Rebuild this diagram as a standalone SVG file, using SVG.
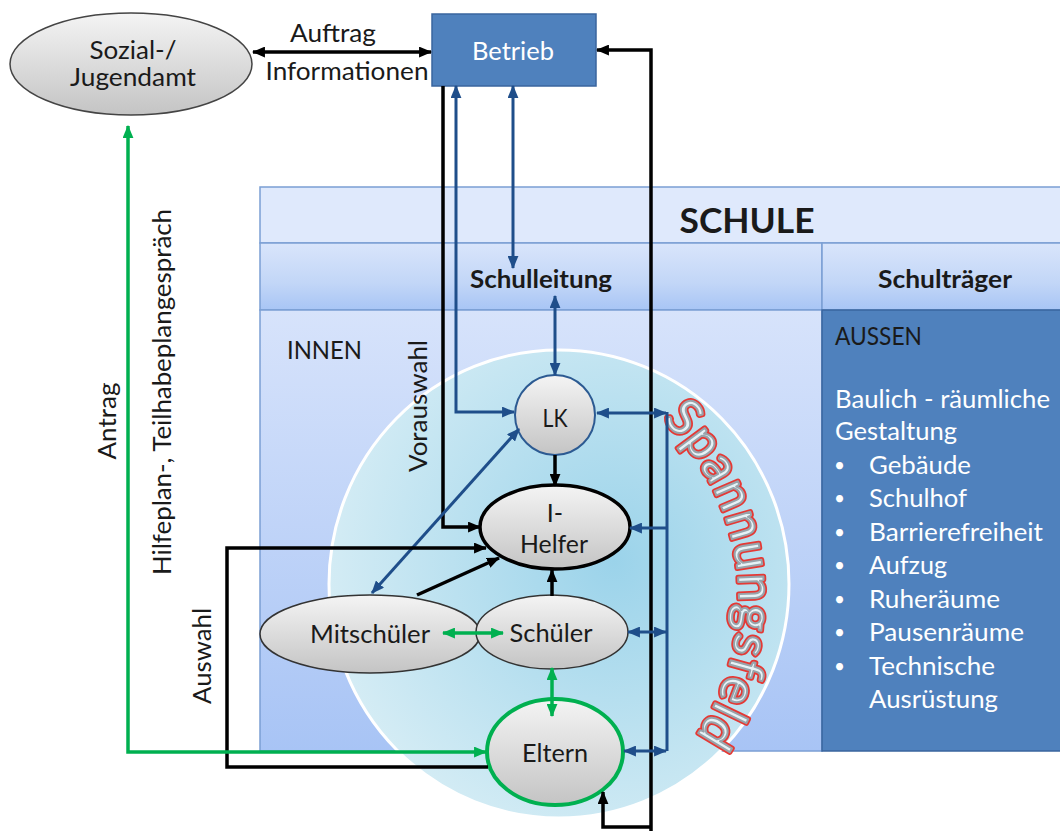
<svg xmlns="http://www.w3.org/2000/svg" width="1060" height="831" viewBox="0 0 1060 831">
<defs>
<style>
text{font-family:Lato,"Open Sans","Liberation Sans",sans-serif;font-size:25px;fill:#1a1a1a}
.c{text-anchor:middle}
.bold{font-weight:bold}
.w{fill:#ffffff}
.bul{font-size:19px;fill:#ffffff}
.k{stroke:#000;stroke-width:3.5;fill:none}
.b{stroke:#1f4e8a;stroke-width:3;fill:none}
.g{stroke:#00b050;stroke-width:3.5;fill:none}
.node{fill:url(#gray)}
.frame{stroke:#7b9fd4;stroke-width:1.5}
.sp{font-size:50px}
</style>
<linearGradient id="gray" x1="0" y1="0" x2="0" y2="1"><stop offset="0" stop-color="#f4f4f4"/><stop offset="1" stop-color="#c4c4c4"/></linearGradient>
<radialGradient id="circ" cx="0.62" cy="0.45" r="0.65"><stop offset="0" stop-color="#9bd3ea"/><stop offset="1" stop-color="#d6edf5"/></radialGradient>
<linearGradient id="innen" x1="0" y1="0" x2="0" y2="1"><stop offset="0" stop-color="#d7e3fb"/><stop offset="1" stop-color="#a8c4f5"/></linearGradient>
<linearGradient id="row2" x1="0" y1="0" x2="0" y2="1"><stop offset="0" stop-color="#d9e5fb"/><stop offset="0.6" stop-color="#c2d6f7"/><stop offset="1" stop-color="#a8c5f5"/></linearGradient>
<marker id="mk" viewBox="0 0 12 10" markerUnits="userSpaceOnUse" markerWidth="13" markerHeight="11" refX="11" refY="5" orient="auto-start-reverse"><path d="M0,0 L12,5 L0,10 z" fill="#000"/></marker>
<marker id="mb" viewBox="0 0 12 10" markerUnits="userSpaceOnUse" markerWidth="13" markerHeight="11" refX="11" refY="5" orient="auto-start-reverse"><path d="M0,0 L12,5 L0,10 z" fill="#1f4e8a"/></marker>
<marker id="mg" viewBox="0 0 12 10" markerUnits="userSpaceOnUse" markerWidth="13" markerHeight="11" refX="11" refY="5" orient="auto-start-reverse"><path d="M0,0 L12,5 L0,10 z" fill="#00b050"/></marker>
<path id="arc" d="M 662.3 419.6 A 246 246 0 0 1 690.6 743.8"/>
</defs>
<rect width="1060" height="831" fill="#ffffff"/>

<g id="schule">
<rect class="frame" x="260" y="187" width="810" height="56" fill="#dfe9fc"/>
<rect class="frame" x="260" y="243" width="562" height="67" fill="url(#row2)"/>
<rect class="frame" x="822" y="243" width="248" height="67" fill="url(#row2)"/>
<rect class="frame" x="260" y="310" width="562" height="441" fill="url(#innen)"/>
<text class="c bold" x="747" y="233" style="font-size:35px" textLength="135" lengthAdjust="spacingAndGlyphs">SCHULE</text>
</g>

<g id="schulleitung">
<text class="c bold" x="541" y="288" textLength="142" lengthAdjust="spacingAndGlyphs">Schulleitung</text>
</g>

<g id="schultraeger">
<text class="c bold" x="945" y="288" textLength="134" lengthAdjust="spacingAndGlyphs">Schulträger</text>
</g>

<g id="innen-label">
<text x="287" y="359" textLength="75" lengthAdjust="spacingAndGlyphs">INNEN</text>
</g>

<g id="aussen">
<rect x="822" y="310" width="248" height="441" fill="#4f81bd" stroke="#3a659e" stroke-width="1.5"/>
<text x="835" y="345" textLength="87" lengthAdjust="spacingAndGlyphs">AUSSEN</text>
<text class="w" x="835" y="408" textLength="215" lengthAdjust="spacingAndGlyphs">Baulich - räumliche</text>
<text class="w" x="835" y="440" textLength="122" lengthAdjust="spacingAndGlyphs">Gestaltung</text>
<text class="bul" x="834" y="472">•</text>
<text class="bul" x="834" y="505">•</text>
<text class="bul" x="834" y="539">•</text>
<text class="bul" x="834" y="572">•</text>
<text class="bul" x="834" y="606">•</text>
<text class="bul" x="834" y="639">•</text>
<text class="bul" x="834" y="673">•</text>
<text class="w" x="869" y="474" textLength="102" lengthAdjust="spacingAndGlyphs">Gebäude</text>
<text class="w" x="869" y="507" textLength="98" lengthAdjust="spacingAndGlyphs">Schulhof</text>
<text class="w" x="869" y="541" textLength="174" lengthAdjust="spacingAndGlyphs">Barrierefreiheit</text>
<text class="w" x="869" y="574" textLength="78" lengthAdjust="spacingAndGlyphs">Aufzug</text>
<text class="w" x="869" y="608" textLength="131" lengthAdjust="spacingAndGlyphs">Ruheräume</text>
<text class="w" x="869" y="641" textLength="155" lengthAdjust="spacingAndGlyphs">Pausenräume</text>
<text class="w" x="869" y="675" textLength="126" lengthAdjust="spacingAndGlyphs">Technische</text>
<text class="w" x="869" y="708" textLength="129" lengthAdjust="spacingAndGlyphs">Ausrüstung</text>
</g>

<g id="spannungsfeld">
<ellipse cx="559" cy="584" rx="230" ry="234" fill="url(#circ)" stroke="#ffffff" stroke-width="3"/>
<text class="sp" style="fill:none;stroke:#e53935;stroke-width:5.5;stroke-linejoin:round"><textPath href="#arc" textLength="346" lengthAdjust="spacing">Spannungsfeld</textPath></text>
<text class="sp" style="fill:#e6f2f6;stroke:#98a3ab;stroke-width:2;stroke-linejoin:round"><textPath href="#arc" textLength="346" lengthAdjust="spacing">Spannungsfeld</textPath></text>
</g>

<g id="sozial">
<ellipse class="node" cx="131" cy="64" rx="121" ry="51" stroke="#444" stroke-width="1.5"/>
<text class="c" x="133" y="59" textLength="87" lengthAdjust="spacingAndGlyphs">Sozial-/</text>
<text class="c" x="133" y="86" textLength="126" lengthAdjust="spacingAndGlyphs">Jugendamt</text>
</g>

<g id="betrieb">
<rect x="432" y="14" width="164" height="72" fill="#4f81bd" stroke="#3a659e" stroke-width="1.5"/>
<text class="c w" x="513" y="60" textLength="82" lengthAdjust="spacingAndGlyphs">Betrieb</text>
</g>

<g id="lk">
<circle class="node" cx="555" cy="415" r="40" stroke="#2c5a92" stroke-width="2"/>
<text class="c" x="555" y="427" textLength="25" lengthAdjust="spacingAndGlyphs">LK</text>
</g>

<g id="ihelfer">
<ellipse class="node" cx="555" cy="527" rx="75" ry="42" stroke="#000" stroke-width="3.5"/>
<text class="c" x="555" y="522">I-</text>
<text class="c" x="554" y="553" textLength="68" lengthAdjust="spacingAndGlyphs">Helfer</text>
</g>

<g id="mitschueler">
<ellipse class="node" cx="370" cy="634" rx="110" ry="39" stroke="#333" stroke-width="1.5"/>
<text class="c" x="370" y="643" textLength="120" lengthAdjust="spacingAndGlyphs">Mitschüler</text>
</g>

<g id="schueler">
<ellipse class="node" cx="552" cy="632" rx="76" ry="37" stroke="#333" stroke-width="1.5"/>
<text class="c" x="551" y="642" textLength="83" lengthAdjust="spacingAndGlyphs">Schüler</text>
</g>

<g id="eltern">
<ellipse class="node" cx="555" cy="752" rx="68" ry="53" stroke="#00b050" stroke-width="4"/>
<text class="c" x="555" y="762" textLength="66" lengthAdjust="spacingAndGlyphs">Eltern</text>
</g>

<g id="connectors">
<path class="k" d="M 253 52 L 431 52" marker-start="url(#mk)" marker-end="url(#mk)"/>
<path class="k" d="M 597 50 L 651 50 L 651 831 M 651 827 L 603 827 L 603 792" marker-start="url(#mk)" marker-end="url(#mk)"/>
<path class="k" d="M 443 86 L 443 527 L 480 527" marker-end="url(#mk)"/>
<path class="b" d="M 456 86 L 456 412 L 514 412" marker-start="url(#mb)" marker-end="url(#mb)"/>
<path class="b" d="M 513 86 L 513 268" marker-start="url(#mb)" marker-end="url(#mb)"/>
<path class="b" d="M 555 296 L 555 375" marker-start="url(#mb)" marker-end="url(#mb)"/>
<path class="k" d="M 555 455 L 555 486" marker-end="url(#mk)"/>
<path class="k" d="M 552 596 L 552 570" marker-end="url(#mk)"/>
<path class="k" d="M 417 595 L 499 558" marker-end="url(#mk)"/>
<path class="b" d="M 372 593 L 519 429" marker-start="url(#mb)" marker-end="url(#mb)"/>
<path class="k" d="M 488 767 L 227 767 L 227 548 L 486 548" marker-end="url(#mk)"/>
<path class="g" d="M 486 752 L 128 752 L 128 126" marker-start="url(#mg)" marker-end="url(#mg)"/>
<path class="g" d="M 443 633 L 503 633" marker-start="url(#mg)" marker-end="url(#mg)"/>
<path class="g" d="M 552 668 L 552 716" marker-start="url(#mg)" marker-end="url(#mg)"/>
<path class="b" d="M 667 412 L 667 751"/>
<path class="b" d="M 597 413 L 666 413" marker-start="url(#mb)" marker-end="url(#mb)"/>
<path class="b" d="M 667 528 L 630 528" marker-end="url(#mb)"/>
<path class="b" d="M 628 632 L 666 632" marker-start="url(#mb)" marker-end="url(#mb)"/>
<path class="b" d="M 624 751 L 666 751" marker-start="url(#mb)" marker-end="url(#mb)"/>
</g>

<g id="labels">
<text class="c" x="333" y="42" textLength="86" lengthAdjust="spacingAndGlyphs">Auftrag</text>
<text class="c" x="347" y="80" textLength="163" lengthAdjust="spacingAndGlyphs">Informationen</text>
<text class="c" transform="translate(116,421) rotate(-90)" textLength="77" lengthAdjust="spacingAndGlyphs">Antrag</text>
<text class="c" transform="translate(171,392) rotate(-90)" textLength="366" lengthAdjust="spacingAndGlyphs">Hilfeplan-, Teilhabeplangespräch</text>
<text class="c" transform="translate(211,656) rotate(-90)" textLength="96" lengthAdjust="spacingAndGlyphs">Auswahl</text>
<text class="c" transform="translate(427,406) rotate(-90)" textLength="132" lengthAdjust="spacingAndGlyphs">Vorauswahl</text>
</g>
</svg>
